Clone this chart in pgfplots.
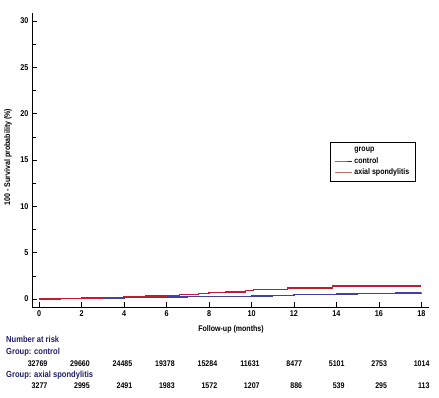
\documentclass[border=0pt]{standalone}
\usepackage{pgfplots}
\pgfplotsset{compat=1.18}
\usepackage{fontspec}
\setmainfont[FakeStretch=0.86]{Liberation Sans}
\definecolor{ctrl}{rgb}{0.25,0.25,0.65}
\definecolor{axsp}{rgb}{0.74,0.12,0.18}
\definecolor{ctrlleg}{rgb}{0.14,0.14,0.40}
\definecolor{axspleg}{rgb}{0.78,0.42,0.42}
\definecolor{hdr}{rgb}{0.12,0.12,0.42}
\begin{document}
\begin{tikzpicture}[x=1pt,y=1pt,font=\fontsize{8.2}{9.6}\selectfont\bfseries]
\useasboundingbox (0,0) rectangle (439,-398);
\begin{axis}[
  at={(32pt,-307pt)}, anchor=south west,
  width=397pt, height=294pt, scale only axis,
  xmin=-0.34, xmax=18.36, ymin=-0.86, ymax=30.86,
  axis x line*=bottom, axis y line*=left,
  axis line style={line width=0.8pt},
  tick align=inside, major tick length=5pt, minor tick length=4pt,
  tick style={line width=0.6pt, black},
  xtick={0,2,...,18}, ytick={0,5,...,30},
  minor y tick num=1,
  /pgf/number format/assume math mode=true,
  ticklabel style={font=\fontsize{8.4}{9.6}\selectfont\bfseries},
  clip=false,
  legend style={at={(0.751,0.561)}, anchor=north west, draw=black, line width=0.6pt,
    font=\fontsize{8.2}{10}\selectfont\bfseries, row sep=0pt, inner xsep=4pt, inner ysep=3pt,
    legend cell align=left},
]
\addlegendimage{empty legend}
\addlegendentry{group}
\addlegendimage{color=ctrlleg, line width=0.7pt}
\addlegendentry{control}
\addlegendimage{color=axspleg, line width=0.9pt}
\addlegendentry{axial spondylitis}
\addplot[const plot, color=ctrl, line width=1.3pt, forget plot] coordinates {
(0,0) (1,0.03) (2,0.07) (3,0.11) (4,0.15) (5,0.18) (6,0.21) (7,0.24) (8,0.27) (9,0.3) (10,0.34) (11,0.4) (12,0.46) (13,0.5) (14,0.55) (15,0.58) (16,0.61) (16.8,0.65) (18,0.66)};
\addplot[const plot, color=axsp, line width=1.3pt, forget plot] coordinates {
(0,0) (1,0.05) (2,0.1) (3,0.2) (4,0.27) (5,0.32) (6,0.38) (6.6,0.5) (7.5,0.6) (8,0.68) (8.8,0.75) (9.7,0.95) (10.1,1.02) (11.7,1.2) (13.8,1.42) (18,1.42)};
\node[anchor=base east] at (axis cs:0.55,-7.23) {32769};
\node[anchor=base east] at (axis cs:2.55,-7.23) {29660};
\node[anchor=base east] at (axis cs:4.55,-7.23) {24485};
\node[anchor=base east] at (axis cs:6.55,-7.23) {19378};
\node[anchor=base east] at (axis cs:8.55,-7.23) {15284};
\node[anchor=base east] at (axis cs:10.55,-7.23) {11631};
\node[anchor=base east] at (axis cs:12.55,-7.23) {8477};
\node[anchor=base east] at (axis cs:14.55,-7.23) {5101};
\node[anchor=base east] at (axis cs:16.55,-7.23) {2753};
\node[anchor=base east] at (axis cs:18.55,-7.23) {1014};
\node[anchor=base east] at (axis cs:0.55,-9.6) {3277};
\node[anchor=base east] at (axis cs:2.55,-9.6) {2995};
\node[anchor=base east] at (axis cs:4.55,-9.6) {2491};
\node[anchor=base east] at (axis cs:6.55,-9.6) {1983};
\node[anchor=base east] at (axis cs:8.55,-9.6) {1572};
\node[anchor=base east] at (axis cs:10.55,-9.6) {1207};
\node[anchor=base east] at (axis cs:12.55,-9.6) {886};
\node[anchor=base east] at (axis cs:14.55,-9.6) {539};
\node[anchor=base east] at (axis cs:16.55,-9.6) {295};
\node[anchor=base east] at (axis cs:18.55,-9.6) {113};
\end{axis}
\node[rotate=90] at (8,-157) {100 - Survival probability (\%)};
\node at (231,-329) {Follow-up (months)};
\begin{scope}[font=\fontsize{8.8}{10}\selectfont\bfseries]
\node[anchor=base west, text=hdr, inner sep=0pt] at (6,-342) {Number at risk};
\node[anchor=base west, text=hdr, inner sep=0pt] at (6,-354) {Group: control};
\node[anchor=base west, text=hdr, inner sep=0pt] at (6,-377) {Group: axial spondylitis};
\end{scope}
\end{tikzpicture}
\end{document}
